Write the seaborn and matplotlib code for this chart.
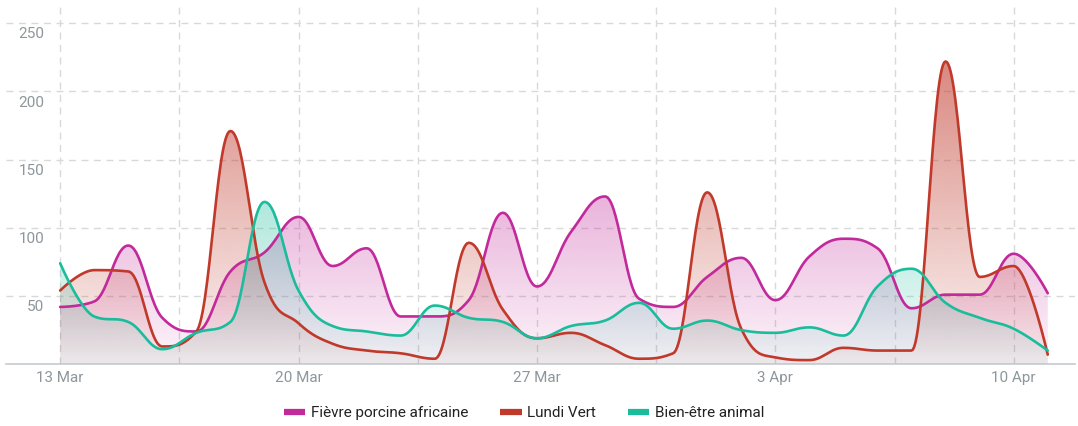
import numpy as np
import pandas as pd
import matplotlib
matplotlib.use("Agg")
import matplotlib.pyplot as plt
import matplotlib.transforms as mtransforms
from matplotlib.lines import Line2D
from matplotlib.colors import to_rgb
import seaborn as sns

# daily values, 13 Mar -> 11 Apr
start_date = "2019-03-13"
series_names = ["Fièvre porcine africaine", "Lundi Vert", "Bien-être animal"]
fievre = [42, 46, 87, 34, 24, 68, 82, 108, 72, 85,
          35, 35, 47, 111, 57, 97, 123, 48, 42, 64,
          78, 47, 79, 92, 85, 41, 51, 51, 81, 52]
lundi_vert = [54, 69, 68, 13, 24, 171, 60, 30, 15, 10,
              8, 4, 89, 40, 19, 23, 14, 4, 8, 126,
              26, 5, 3, 12, 10, 10, 222, 64, 72, 7]
bien_etre = [74, 35, 31, 11, 23, 31, 119, 54, 28, 24,
             21, 43, 34, 31, 19, 28, 32, 45, 26, 32,
             25, 23, 27, 21, 57, 70, 45, 34, 26, 10]
y_ticks = [50, 100, 150, 200, 250]
colors = ["#c2299a", "#c0392b", "#1abc9c"]


def spline_curve(x, y, smoothing=1.5, steps=30):
    """Highcharts-style spline through the points (render only)."""
    x = np.asarray(x, float)
    y = np.asarray(y, float)
    n = len(x)
    lx, ly, rx, ry = x.copy(), y.copy(), x.copy(), y.copy()
    den = smoothing + 1
    for i in range(1, n - 1):
        lcx = (smoothing * x[i] + x[i - 1]) / den
        lcy = (smoothing * y[i] + y[i - 1]) / den
        rcx = (smoothing * x[i] + x[i + 1]) / den
        rcy = (smoothing * y[i] + y[i + 1]) / den
        corr = ((rcy - lcy) * (rcx - x[i])) / (rcx - lcx) + y[i] - rcy
        lcy += corr
        rcy += corr
        if lcy > y[i - 1] and lcy > y[i]:
            lcy = max(y[i - 1], y[i]); rcy = 2 * y[i] - lcy
        elif lcy < y[i - 1] and lcy < y[i]:
            lcy = min(y[i - 1], y[i]); rcy = 2 * y[i] - lcy
        if rcy > y[i + 1] and rcy > y[i]:
            rcy = max(y[i + 1], y[i]); lcy = 2 * y[i] - rcy
        elif rcy < y[i + 1] and rcy < y[i]:
            rcy = min(y[i + 1], y[i]); lcy = 2 * y[i] - rcy
        lx[i], ly[i], rx[i], ry[i] = lcx, lcy, rcx, rcy
    t = np.linspace(0, 1, steps, endpoint=False)
    xs, ys = [], []
    for i in range(1, n):
        b0, b1, b2, b3 = (1 - t) ** 3, 3 * t * (1 - t) ** 2, 3 * t ** 2 * (1 - t), t ** 3
        xs.append(b0 * x[i - 1] + b1 * rx[i - 1] + b2 * lx[i] + b3 * x[i])
        ys.append(b0 * y[i - 1] + b1 * ry[i - 1] + b2 * ly[i] + b3 * y[i])
    xs.append([x[-1]])
    ys.append([y[-1]])
    return np.concatenate(xs), np.concatenate(ys)


dates = pd.date_range(start_date, periods=len(fievre), freq="D")
days = np.arange(len(dates))

sns.set_theme(style="white")
plt.rcParams["font.family"] = ["Roboto", "DejaVu Sans"]

fig = plt.figure(figsize=(10.78, 4.26), dpi=100)
ax = fig.add_axes([6 / 1078, 1 - 364.2 / 426, 1069 / 1078, 359.2 / 426])

x_lo, x_hi = -1.59, 29.8
y_top = 263.4

for k, (name, vals, col) in enumerate(zip(series_names, [fievre, lundi_vert, bien_etre], colors)):
    sx, sy = spline_curve(days, vals)
    # gradient area under the curve
    g = np.linspace(0, y_top, 256)
    img = np.zeros((256, 1, 4))
    img[..., :3] = to_rgb(col)
    img[..., 3] = np.clip(0.05 + 0.62 * g / 250, 0, 1)[:, None]
    im = ax.imshow(img, extent=[x_lo, x_hi, 0, y_top], origin="lower",
                   aspect="auto", interpolation="bilinear", zorder=1 + k)
    poly = ax.fill_between(sx, sy, 0, facecolor="none", edgecolor="none")
    im.set_clip_path(poly.get_paths()[0], transform=ax.transData)
    sns.lineplot(x=sx, y=sy, color=col, linewidth=1.9, estimator=None,
                 sort=False, ax=ax, zorder=10 + k)

ax.set_xlim(x_lo, x_hi)
ax.set_ylim(0, y_top)

# x ticks: weekly labels, gridlines every half week
major = days[::7]
ax.set_xticks(major)
ax.set_xticklabels([f"{d.day} {d.strftime('%b')}" for d in dates[::7]])
ax.set_xticks(np.arange(3.5, 29, 7), minor=True)
ax.set_yticks(y_ticks)
ax.tick_params(axis="both", which="both", length=0)
ax.tick_params(axis="x", pad=5, labelsize=11, labelcolor="#8d979b")
ax.tick_params(axis="y", labelleft=False)
ax.grid(True, which="both", color="#d9d9d9", linestyle=(0, (5, 4)), linewidth=1)
ax.set_axisbelow(True)

for s in ["top", "right", "left"]:
    ax.spines[s].set_visible(False)
ax.spines["bottom"].set_color("#c3cbce")
ax.spines["bottom"].set_linewidth(1.2)

blend = mtransforms.blended_transform_factory(ax.transAxes, ax.transData)
for v in y_ticks:
    ax.annotate(str(v), xy=(38 / 1069, v), xycoords=blend, xytext=(0, -3),
                textcoords="offset points", ha="right", va="top",
                fontsize=11, color="#8d979b")

handles = [Line2D([0], [0], color=c, linewidth=4.5, solid_capstyle="butt") for c in colors]
fig.legend(handles, series_names, loc="center", bbox_to_anchor=(524 / 1078, 1 - 413 / 426),
           ncol=3, frameon=False, fontsize=11, handlelength=1.4, handletextpad=0.35,
           columnspacing=2.1, labelcolor="#222222")

fig.savefig("out.png", dpi=100)
